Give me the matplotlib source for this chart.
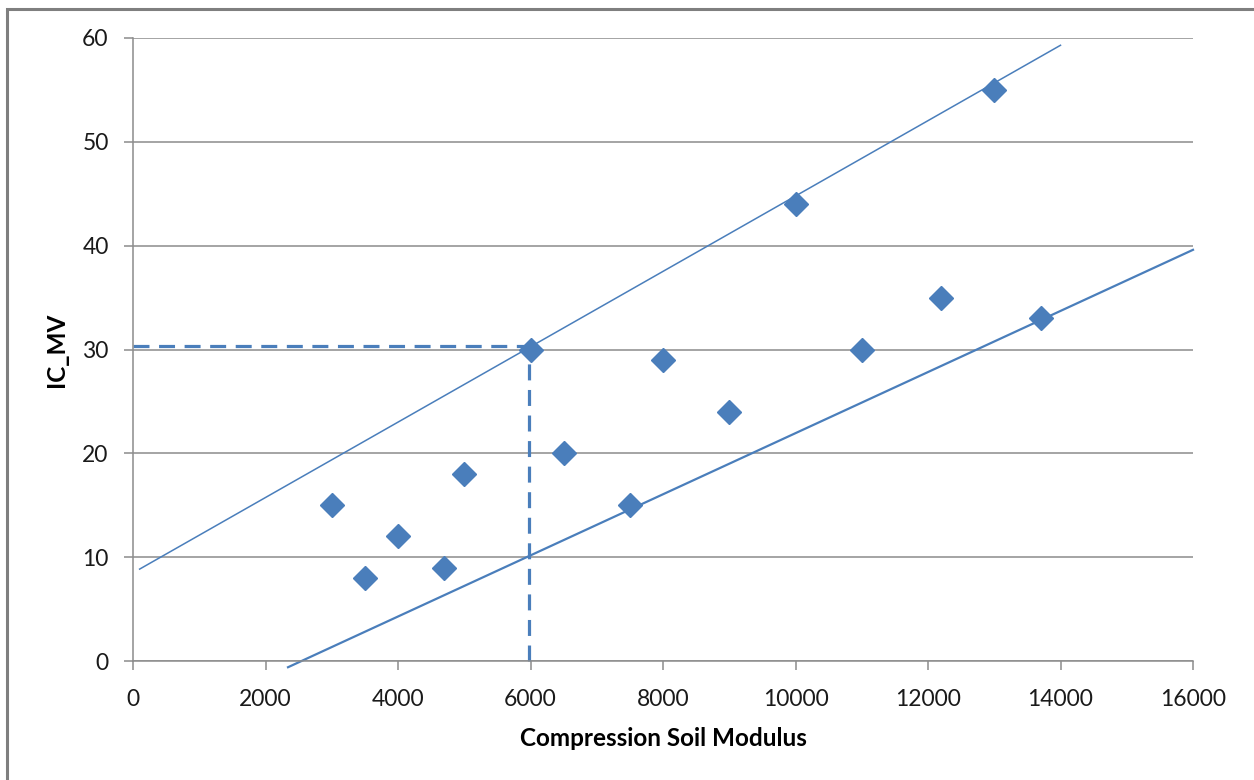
#---importing the libraries---
import matplotlib
matplotlib.use('Agg')
import matplotlib.pyplot as plt
from matplotlib.patches import Rectangle

#---data---
soil_modulus = [3000, 3500, 4000, 4700, 5000, 6000, 6500, 7500, 8000, 9000, 10000, 11000, 12200, 13000, 13700]
ic_mv = [15, 8, 12, 9, 18, 30, 20, 15, 29, 24, 44, 30, 35, 55, 33]

# upper and lower bound lines (end points)
upper_x = [100, 14000]
upper_y = [8.85, 59.3]
lower_x = [2340, 16000]
lower_y = [-0.6, 39.6]

# dashed guide at the chosen modulus
guide_x = 5970
guide_y = 30.3

x_ticks = [0, 2000, 4000, 6000, 8000, 10000, 12000, 14000, 16000]
y_ticks = [0, 10, 20, 30, 40, 50, 60]

#---style---
plt.rcParams['font.family'] = ['Lato', 'DejaVu Sans']
blue = '#4A7EBB'
grey = '#8C8C8C'

fig = plt.figure(figsize=(12.54, 7.8), dpi=100)
W, H = 1254, 780
ax = fig.add_axes([133 / W, 1 - 661 / H, (1193 - 133) / W, (661 - 38) / H])

# figure border
fig.patches.append(Rectangle((7 / W, -0.05), 1.2, 1 - 9 / H + 0.05, transform=fig.transFigure,
                             fill=False, edgecolor='#7F7F7F', linewidth=2.2))

ax.set_xlim(0, 16000)
ax.set_ylim(0, 60)
ax.set_xticks(x_ticks)
ax.set_yticks(y_ticks)
ax.yaxis.grid(True, color=grey, linewidth=1.1)
ax.set_axisbelow(True)

for side in ['top', 'right']:
    ax.spines[side].set_visible(False)
for side in ['left', 'bottom']:
    ax.spines[side].set_color(grey)
    ax.spines[side].set_linewidth(1.1)
ax.tick_params(axis='both', colors=grey, length=6.5, width=1.1, labelsize=16.5, labelcolor='#1a1a1a')
ax.tick_params(axis='x', pad=14)
ax.tick_params(axis='y', pad=11)

# bound lines
ax.plot(upper_x, upper_y, color=blue, linewidth=1.1, clip_on=False)
ax.plot(lower_x, lower_y, color=blue, linewidth=1.6, clip_on=False)

# dashed guide lines
ax.plot([0, guide_x], [guide_y, guide_y], color=blue, linewidth=2.3, linestyle=(0, (5, 3)), clip_on=False)
ax.plot([guide_x, guide_x], [0, guide_y], color=blue, linewidth=2.3, linestyle=(0, (5, 3)), clip_on=False)

# data points
ax.plot(soil_modulus, ic_mv, linestyle='none', marker='D', markersize=12,
        color=blue, markeredgecolor=blue, clip_on=False, zorder=5)

ax.set_xlabel('Compression Soil Modulus', fontsize=17.5, fontweight='bold', labelpad=12)
ax.set_ylabel('IC_MV', fontsize=17.5, fontweight='bold', labelpad=10)

plt.savefig('out.png', dpi=100)
